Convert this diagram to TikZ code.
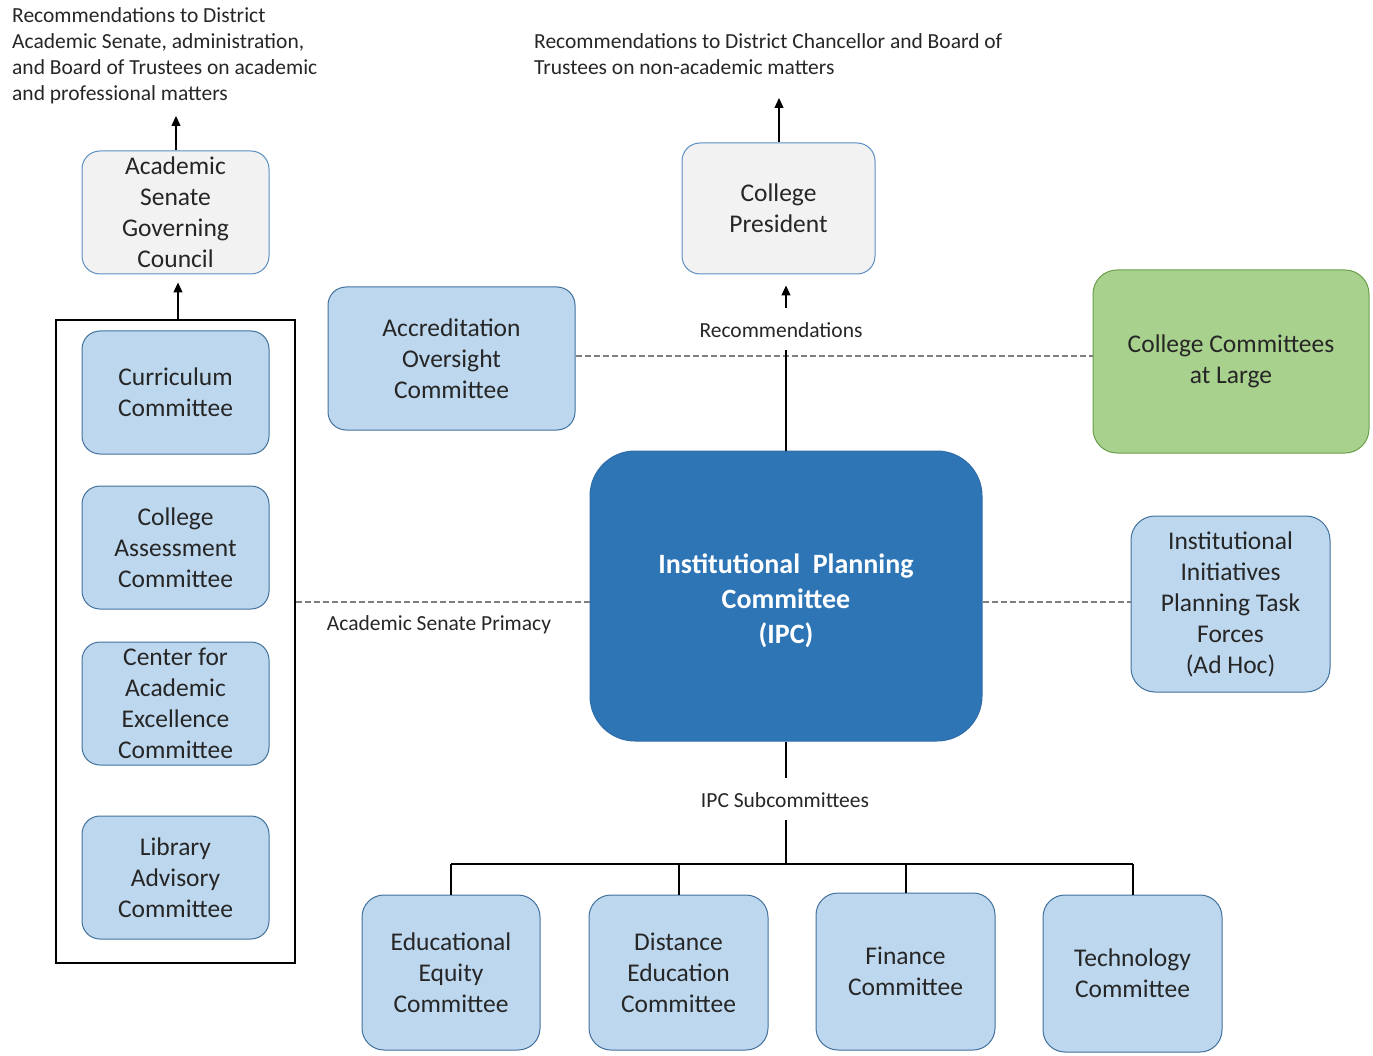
\documentclass[tikz,border=0pt]{standalone}
\usepackage{fontspec}
\setmainfont{Carlito}
\usetikzlibrary{arrows.meta,calc}
\definecolor{lblue}{HTML}{BDD7EE}
\definecolor{bord}{HTML}{41719C}
\definecolor{gbordblue}{HTML}{5B8EC2}
\definecolor{lgray}{HTML}{F2F2F2}
\definecolor{ipcblue}{HTML}{2E75B6}
\definecolor{ipcbord}{HTML}{2E6DA8}
\definecolor{lgreen}{HTML}{A9D18E}
\definecolor{gbord}{HTML}{6A9E4B}
\definecolor{txt}{HTML}{262626}
\definecolor{dashc}{HTML}{7F7F7F}
\newcommand\bxfont{\fontsize{25.5}{31}\selectfont}
\newcommand\ipcfont{\fontsize{28}{35}\selectfont\bfseries}
\newcommand\smfont{\fontsize{21.5}{26}\selectfont}
\tikzset{
  box/.style={draw=bord, rounded corners=18pt, align=center, font=\bxfont, text=txt, line width=1pt, inner sep=0pt},
  bluebox/.style={box, fill=lblue},
  graybox/.style={box, fill=lgray, draw=gbordblue},
  lbl/.style={font=\smfont, text=txt, inner sep=0pt},
  arr/.style={line width=1.3pt, -{Triangle[length=10pt,width=9pt]}},
  conn/.style={line width=1.3pt},
  tree/.style={line width=2pt},
  dsh/.style={draw=dashc, line width=1.8pt, dash pattern=on 6pt off 3pt},
}
\begin{document}
\begin{tikzpicture}[x=1pt,y=-1pt]
\useasboundingbox (0,0) rectangle (1373,1056);
% frame
\node[draw=black, line width=1.2pt, minimum width=239pt, minimum height=643pt, inner sep=0pt] (frame) at (175.5,641.5) {};
% left column
\node[graybox, minimum width=187pt, minimum height=123pt] (asgc) at (175.5,212.5) {Academic\\Senate\\Governing\\Council};
\node[bluebox, minimum width=187pt, minimum height=123pt] (cur) at (175.5,392.5) {Curriculum\\Committee};
\node[bluebox, minimum width=187pt, minimum height=123pt] (cac) at (175.5,547.5) {College\\Assessment\\Committee};
\node[bluebox, minimum width=187pt, minimum height=123pt] (cae) at (175.5,703.5) {Center for\\Academic\\Excellence\\Committee};
\node[bluebox, minimum width=187pt, minimum height=123pt] (lac) at (175.5,877.5) {Library\\Advisory\\Committee};
% middle top
\node[bluebox, minimum width=247pt, minimum height=143pt] (aoc) at (451.5,358.5) {Accreditation\\Oversight\\Committee};
\node[graybox, minimum width=193pt, minimum height=131pt] (cp) at (778.5,208.5) {College\\President};
\node[box, fill=lgreen, draw=gbord, minimum width=276pt, minimum height=183pt, rounded corners=24pt] (ccl) at (1231,361.5) {College Committees\\at Large};
% IPC
\node[box, fill=ipcblue, draw=ipcbord, text=white, font=\ipcfont, rounded corners=45pt, minimum width=392pt, minimum height=290pt] (ipc) at (786,596) {\rule{0pt}{29pt}Institutional\ \ Planning\\Committee\\(IPC)};
\node[bluebox, minimum width=199pt, minimum height=176pt, rounded corners=24pt] (iip) at (1230.5,604) {Institutional\\Initiatives\\Planning Task\\Forces\\(Ad Hoc)};
% bottom
\node[bluebox, minimum width=178pt, minimum height=155pt, rounded corners=22pt] (eec) at (451,972.5) {Educational\\Equity\\Committee};
\node[bluebox, minimum width=179pt, minimum height=155pt, rounded corners=22pt] (dec) at (678.5,972.5) {Distance\\Education\\Committee};
\node[bluebox, minimum width=179pt, minimum height=157pt, rounded corners=22pt] (fc) at (905.5,971.5) {Finance\\Committee};
\node[bluebox, minimum width=179pt, minimum height=157pt, rounded corners=22pt] (tc) at (1132.5,973.5) {Technology\\Committee};
% texts
\node[lbl, anchor=north west, align=left] (t1) at (12,7) {Recommendations to District\\Academic Senate, administration,\\and Board of Trustees on academic\\and professional matters};
\node[lbl, anchor=north west, align=left] (t2) at (534,33) {Recommendations to District Chancellor and Board of\\Trustees on non-academic matters};
\node[lbl] (rec) at (781,330) {Recommendations};
\node[lbl] (asp) at (439,625) {Academic Senate Primacy};
\node[lbl] (sub) at (785,800) {IPC Subcommittees};
% coordinates
\coordinate (a1) at (176,116);
\coordinate (a2) at (779,98);
\coordinate (ra) at (786,308);
\coordinate (rl) at (786,350);
\coordinate (dl) at (0,356);
\coordinate (dm) at (0,602);
\coordinate (s1) at (786,778);
\coordinate (s2) at (786,820);
\coordinate (bar) at (786,864);
% connectors
\draw[arr] (asgc.north -| a1) -- (a1);
\draw[arr, shorten >=8pt] (frame.north -| 178,0) -- (asgc.south -| 178,0);
\draw[arr] (cp.north -| a2) -- (a2);
\draw[arr, shorten >=11pt] (ra) -- (cp.south -| ra);
\draw[dsh] (aoc.east |- dl) -- (ccl.west |- dl);
\draw[conn] (ipc.north) -- (rl);
\draw[dsh] (frame.east |- dm) -- (ipc.west |- dm);
\draw[dsh] (ipc.east |- dm) -- (iip.west |- dm);
\draw[tree] (ipc.south) -- (s1);
\draw[tree] (s2) -- (bar);
\draw[tree] (eec.north |- bar) -- (tc.north |- bar);
\draw[tree] (eec.north |- bar) -- (eec.north);
\draw[tree] (dec.north |- bar) -- (dec.north);
\draw[tree] (fc.north |- bar) -- (fc.north);
\draw[tree] (tc.north |- bar) -- (tc.north);
\end{tikzpicture}
\end{document}
